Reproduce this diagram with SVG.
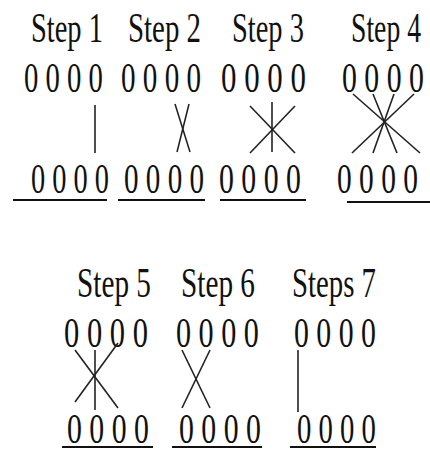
<svg xmlns="http://www.w3.org/2000/svg" width="430" height="449" viewBox="0 0 430 449">
<style>
text{font-family:"Liberation Serif","Times New Roman",serif;font-size:43px;fill:#111;}
.ln{stroke:#222;stroke-width:1.6;fill:none;stroke-linecap:butt;}
.ul{stroke:#111;stroke-width:2;}
</style>
<rect width="430" height="449" fill="#fff"/>
<g id="step1">
<text transform="translate(31,42) scale(0.662,1)">Step 1</text>
<text transform="translate(24,92) scale(0.668,1)">0 0 0 0</text>
<text transform="translate(31,193) scale(0.660,1)">0 0 0 0</text>
<line class="ul" x1="13" y1="200" x2="107" y2="200"/>
</g>
<g id="step2">
<text transform="translate(128,42) scale(0.672,1)">Step 2</text>
<text transform="translate(121,92) scale(0.677,1)">0 0 0 0</text>
<text transform="translate(124,193) scale(0.677,1)">0 0 0 0</text>
<line class="ul" x1="118" y1="200" x2="205" y2="200"/>
</g>
<g id="step3">
<text transform="translate(232,42) scale(0.662,1)">Step 3</text>
<text transform="translate(221,92) scale(0.719,1)">0 0 0 0</text>
<text transform="translate(219,193) scale(0.693,1)">0 0 0 0</text>
<line class="ul" x1="220" y1="200" x2="306" y2="200"/>
</g>
<g id="step4">
<text transform="translate(351,42) scale(0.644,1)">Step 4</text>
<text transform="translate(342,92) scale(0.693,1)">0 0 0 0</text>
<text transform="translate(337,193) scale(0.685,1)">0 0 0 0</text>
<line class="ul" x1="347" y1="202" x2="430" y2="202"/>
</g>
<g id="step5">
<text transform="translate(77,297) scale(0.681,1)">Step 5</text>
<text transform="translate(64,347) scale(0.710,1)">0 0 0 0</text>
<text transform="translate(67,443) scale(0.693,1)">0 0 0 0</text>
<line class="ul" x1="62" y1="447" x2="153" y2="447"/>
</g>
<g id="step6">
<text transform="translate(181,297) scale(0.681,1)">Step 6</text>
<text transform="translate(176,347) scale(0.702,1)">0 0 0 0</text>
<text transform="translate(179,443) scale(0.693,1)">0 0 0 0</text>
<line class="ul" x1="172" y1="447" x2="262" y2="447"/>
</g>
<g id="step7">
<text transform="translate(292,297) scale(0.670,1)">Steps 7</text>
<text transform="translate(294,347) scale(0.693,1)">0 0 0 0</text>
<text transform="translate(297,443) scale(0.668,1)">0 0 0 0</text>
<line class="ul" x1="290" y1="447" x2="376" y2="447"/>
</g>
<g id="connectors">
<line class="ln" x1="95" y1="105" x2="95" y2="153"/>
<line class="ln" x1="175" y1="104" x2="190" y2="152"/>
<line class="ln" x1="189" y1="104" x2="177" y2="152"/>
<line class="ln" x1="272" y1="102" x2="272" y2="152"/>
<line class="ln" x1="250" y1="106" x2="295" y2="153"/>
<line class="ln" x1="295" y1="106" x2="250" y2="153"/>
<line class="ln" x1="353" y1="94" x2="420" y2="153"/>
<line class="ln" x1="373" y1="94" x2="397" y2="153"/>
<line class="ln" x1="394" y1="94" x2="373" y2="153"/>
<line class="ln" x1="414" y1="94" x2="352" y2="153"/>
<line class="ln" x1="95" y1="350" x2="95" y2="410"/>
<line class="ln" x1="75" y1="350" x2="118" y2="408"/>
<line class="ln" x1="118" y1="343" x2="75" y2="402"/>
<line class="ln" x1="182" y1="350" x2="210" y2="408"/>
<line class="ln" x1="210" y1="350" x2="182" y2="408"/>
<line class="ln" x1="298" y1="350" x2="298" y2="412"/>
</g>
</svg>
